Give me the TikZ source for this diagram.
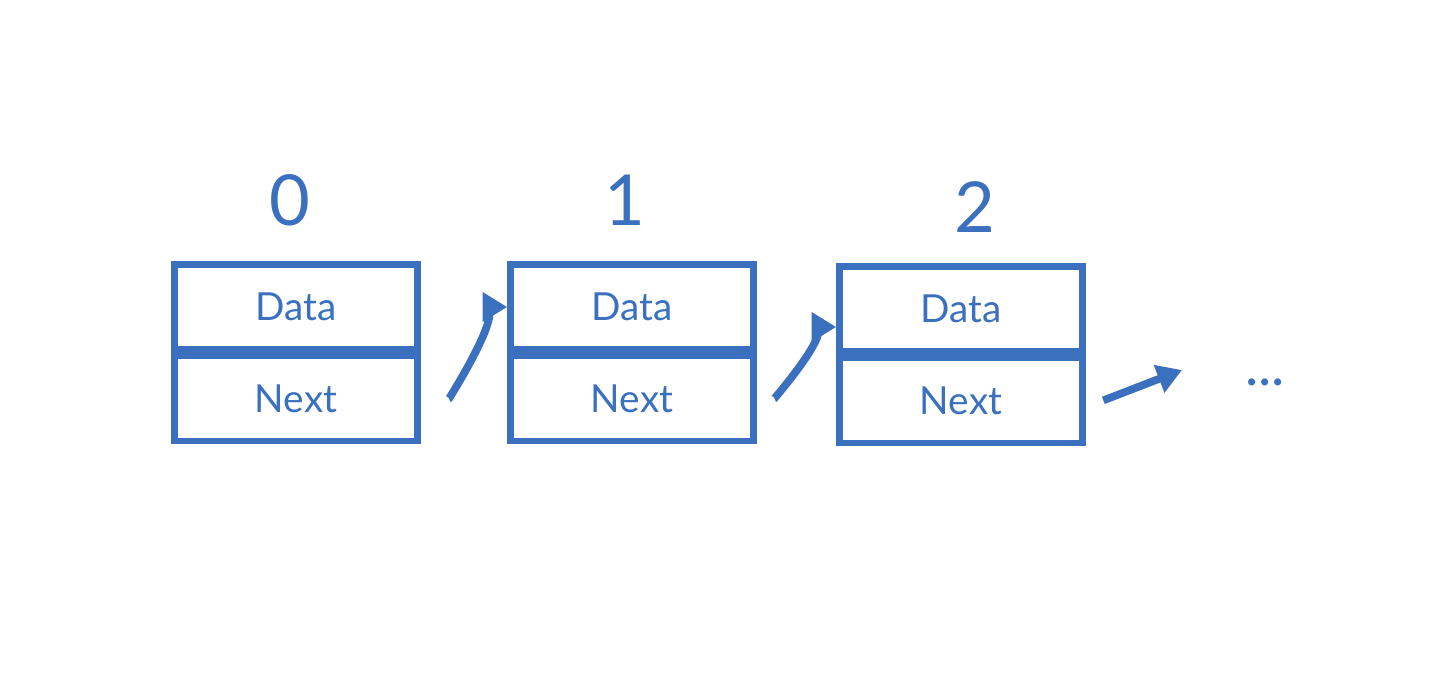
\documentclass[tikz,border=0pt]{standalone}
\usepackage{fontspec}
\setmainfont{Lato}
\usetikzlibrary{arrows.meta,positioning}
\definecolor{listblue}{HTML}{3A70BE}
\tikzset{
        % list cells
        cell/.style={draw=listblue, line width=1.8pt, minimum width=2.43cm, minimum height=0.85cm, text=listblue, font=\fontsize{11}{13}\selectfont, inner sep=0pt},
        % index labels
        index/.style={text=listblue, font=\fontsize{20}{24}\selectfont},
        % links
        link/.style={draw=listblue, line width=2.2pt, -{Triangle[length=7pt,width=8pt]}}
}
\begin{document}
\begin{tikzpicture}[x=0.01cm, y=-0.01cm]
    \useasboundingbox (0,0) rectangle (1434,694);
    % node 0
    \node[cell] (d0) at (296,307) {Data};
    \node[cell, below=0pt of d0] (n0) {Next};
    \node[index] (i0) at (290,200) {0};
    % node 1
    \node[cell] (d1) at (632,307) {Data};
    \node[cell, below=0pt of d1] (n1) {Next};
    \node[index] (i1) at (625,200) {1};
    % node 2
    \node[cell] (d2) at (961,309) {Data};
    \node[cell, below=0pt of d2] (n2) {Next};
    \node[index] (i2) at (975,207) {2};
    % rest of the list
    \node[text=listblue, font=\fontsize{16}{18}\selectfont] (dots) at (1265,382) {...};
    \coordinate (end) at (1182,370);
    % links
    \draw[link] ([xshift=8pt]n0.east) .. controls +(0.55,0) and +(-0.05,0.3) .. ++(0.45,-0.2) .. controls +(0.05,-0.3) and +(-0.3,0) .. (d1.west);
    \draw[link] ([xshift=5pt]n1.east) .. controls +(0.55,0) and +(-0.05,0.3) .. ++(0.4,-0.2) .. controls +(0.05,-0.3) and +(-0.3,0) .. ([yshift=-0.18cm]d2.west);
    \draw[link] ([xshift=5pt]n2.east) -- (end);
\end{tikzpicture}
\end{document}
